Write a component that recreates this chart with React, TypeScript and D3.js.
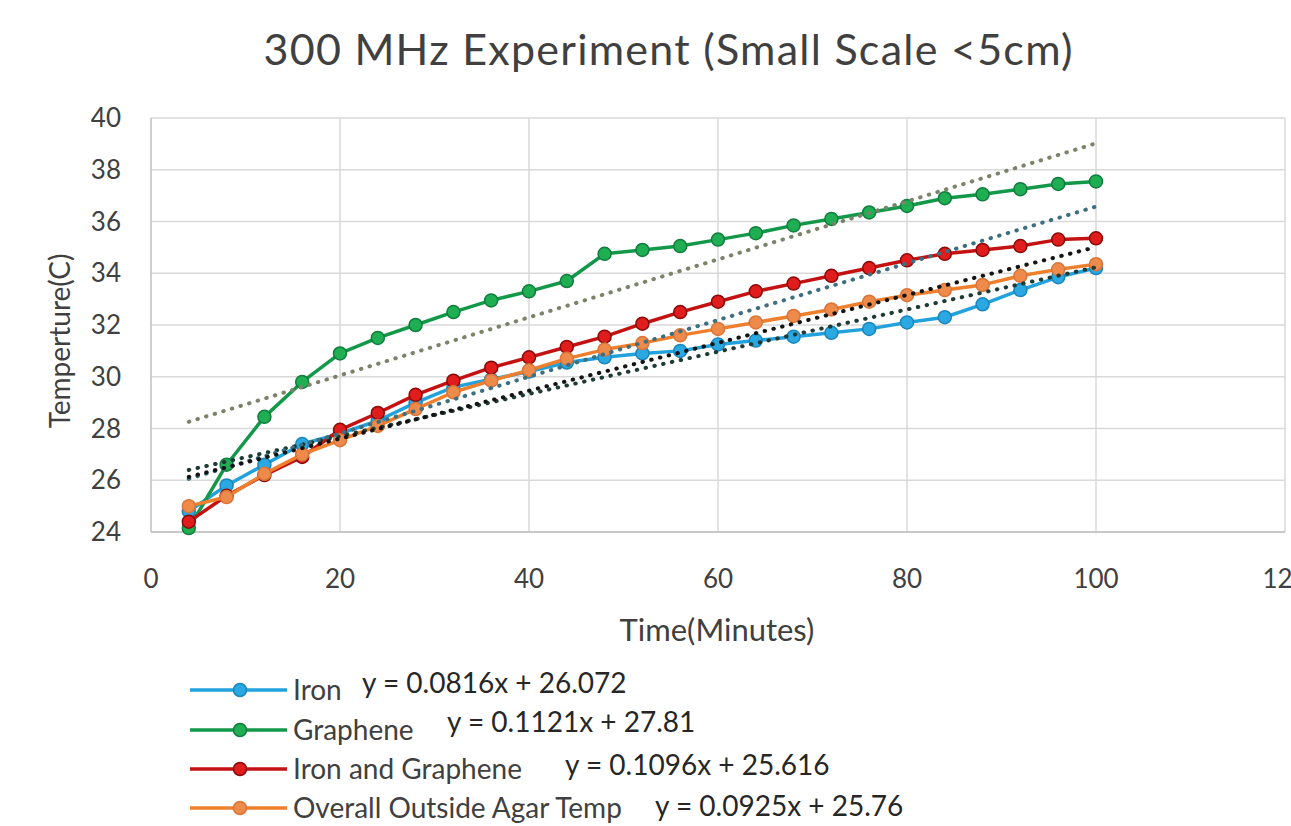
import React from "react";
import * as d3 from "d3";

const times = [4, 8, 12, 16, 20, 24, 28, 32, 36, 40, 44, 48, 52, 56, 60, 64, 68, 72, 76, 80, 84, 88, 92, 96, 100];

const ironValues = [24.8, 25.8, 26.6, 27.4, 27.8, 28.3, 29.0, 29.6, 29.9, 30.2, 30.55, 30.75, 30.9, 31.0, 31.25, 31.4, 31.55, 31.7, 31.85, 32.1, 32.3, 32.8, 33.35, 33.85, 34.2];
const grapheneValues = [24.15, 26.6, 28.45, 29.8, 30.9, 31.5, 32.0, 32.5, 32.95, 33.3, 33.7, 34.75, 34.9, 35.05, 35.3, 35.55, 35.85, 36.1, 36.35, 36.6, 36.9, 37.05, 37.25, 37.45, 37.55];
const ironGrapheneValues = [24.4, 25.4, 26.2, 26.9, 27.95, 28.6, 29.3, 29.85, 30.35, 30.75, 31.15, 31.55, 32.05, 32.5, 32.9, 33.3, 33.6, 33.9, 34.2, 34.5, 34.75, 34.9, 35.05, 35.3, 35.35];
const outsideValues = [25.0, 25.35, 26.25, 27.0, 27.55, 28.1, 28.75, 29.4, 29.85, 30.25, 30.7, 31.05, 31.3, 31.6, 31.85, 32.1, 32.35, 32.6, 32.9, 33.15, 33.35, 33.55, 33.9, 34.15, 34.35];

const seriesNames = ["Iron", "Graphene", "Iron and Graphene", "Overall Outside Agar Temp"];
const trendSlopes = [0.0816, 0.1121, 0.1096, 0.0925];
const trendIntercepts = [26.072, 27.81, 25.616, 25.76];
const trendLabels = ["y = 0.0816x + 26.072", "y = 0.1121x + 27.81", "y = 0.1096x + 25.616", "y = 0.0925x + 25.76"];

const xTicks = [0, 20, 40, 60, 80, 100, 120];
const yTicks = [24, 26, 28, 30, 32, 34, 36, 38, 40];

const titleText = "300 MHz Experiment (Small Scale <5cm)";
const xTitle = "Time(Minutes)";
const yTitle = "Temperture(C)";

const lineColors = ["#22a2dc", "#129848", "#c41212", "#ef7f2c"];
const markerFill = ["#2aa8e2", "#1fae52", "#e01c1c", "#ee8a4a"];
const markerStroke = ["#1a86bb", "#117c3e", "#8a0a0a", "#d9753a"];
const trendColors = ["#1f3b35", "#7b836a", "#3d6f80", "#141414"];

const FONT = "Lato, 'Open Sans', sans-serif";

export default function App() {
  const W = 1291;
  const H = 826;
  const x = d3.scaleLinear().domain([0, 120]).range([151, 1285]);
  const y = d3.scaleLinear().domain([24, 40]).range([532, 118]);

  const allValues = [ironValues, grapheneValues, ironGrapheneValues, outsideValues];
  const line = d3
    .line<[number, number]>()
    .x((d) => x(d[0]))
    .y((d) => y(d[1]));

  const tMin = times[0];
  const tMax = times[times.length - 1];

  const legendRows = [690, 730, 769, 808];
  const eqX = [362, 447, 565, 655];
  const eqY = [683, 722, 765, 806];

  return (
    <svg
      width={W}
      height={H}
      style={{ position: "absolute", left: 0, top: 0, background: "#fff" }}
      fontFamily={FONT}
    >
      <rect x={0} y={0} width={W} height={H} fill="#fff" />
      <text x={668} y={65} textAnchor="middle" fontSize={43} fill="#404040" textLength={809} lengthAdjust="spacing">
        {titleText}
      </text>

      {/* gridlines */}
      {yTicks.map((t) => (
        <line key={"gy" + t} x1={x(0)} x2={x(120)} y1={y(t)} y2={y(t)} stroke="#d9d9d9" strokeWidth={1.5} />
      ))}
      {xTicks.slice(1).map((t) => (
        <line key={"gx" + t} x1={x(t)} x2={x(t)} y1={y(24)} y2={y(40)} stroke="#d9d9d9" strokeWidth={1.5} />
      ))}
      <line x1={x(0)} x2={x(0)} y1={y(24)} y2={y(40)} stroke="#bfbfbf" strokeWidth={1.5} />
      <line x1={x(0)} x2={x(120)} y1={y(24)} y2={y(24)} stroke="#bfbfbf" strokeWidth={1.5} />

      {/* tick labels */}
      {yTicks.map((t) => (
        <text key={"ty" + t} x={121} y={y(t) + 9} textAnchor="end" fontSize={26} fill="#404040">
          {t}
        </text>
      ))}
      {xTicks.map((t) => (
        <text key={"tx" + t} x={x(t)} y={588} textAnchor="middle" fontSize={26} fill="#404040">
          {t}
        </text>
      ))}

      <text x={717} y={641} textAnchor="middle" fontSize={31} fill="#404040">
        {xTitle}
      </text>
      <text
        transform={`translate(70, 341) rotate(-90)`}
        textAnchor="middle"
        fontSize={28}
        fill="#404040"
      >
        {yTitle}
      </text>

      {/* series */}
      {allValues.map((vals, i) => {
        const pts = times.map((t, j) => [t, vals[j]] as [number, number]);
        return (
          <g key={"s" + i}>
            <path d={line(pts) || ""} fill="none" stroke={lineColors[i]} strokeWidth={3.5} strokeLinejoin="round" />
            {pts.map((p, j) => (
              <circle
                key={j}
                cx={x(p[0])}
                cy={y(p[1])}
                r={6.5}
                fill={markerFill[i]}
                stroke={markerStroke[i]}
                strokeWidth={1.5}
              />
            ))}
          </g>
        );
      })}

      {/* trendlines */}
      {trendSlopes.map((m, i) => (
        <line
          key={"tr" + i}
          x1={x(tMin)}
          x2={x(tMax)}
          y1={y(trendIntercepts[i] + m * tMin)}
          y2={y(trendIntercepts[i] + m * tMax)}
          stroke={trendColors[i]}
          strokeWidth={4}
          strokeDasharray="0.5 8.5"
          strokeLinecap="round"
        />
      ))}

      {/* legend */}
      {seriesNames.map((name, i) => (
        <g key={"lg" + i}>
          <line x1={190} x2={287} y1={legendRows[i]} y2={legendRows[i]} stroke={lineColors[i]} strokeWidth={3.5} />
          <circle cx={240} cy={legendRows[i]} r={6.5} fill={markerFill[i]} stroke={markerStroke[i]} strokeWidth={1.5} />
          <text x={293} y={legendRows[i] + 10} fontSize={28} fill="#404040">
            {name}
          </text>
          <text x={eqX[i]} y={eqY[i] + 10} fontSize={28} fill="#262626">
            {trendLabels[i]}
          </text>
        </g>
      ))}
    </svg>
  );
}
